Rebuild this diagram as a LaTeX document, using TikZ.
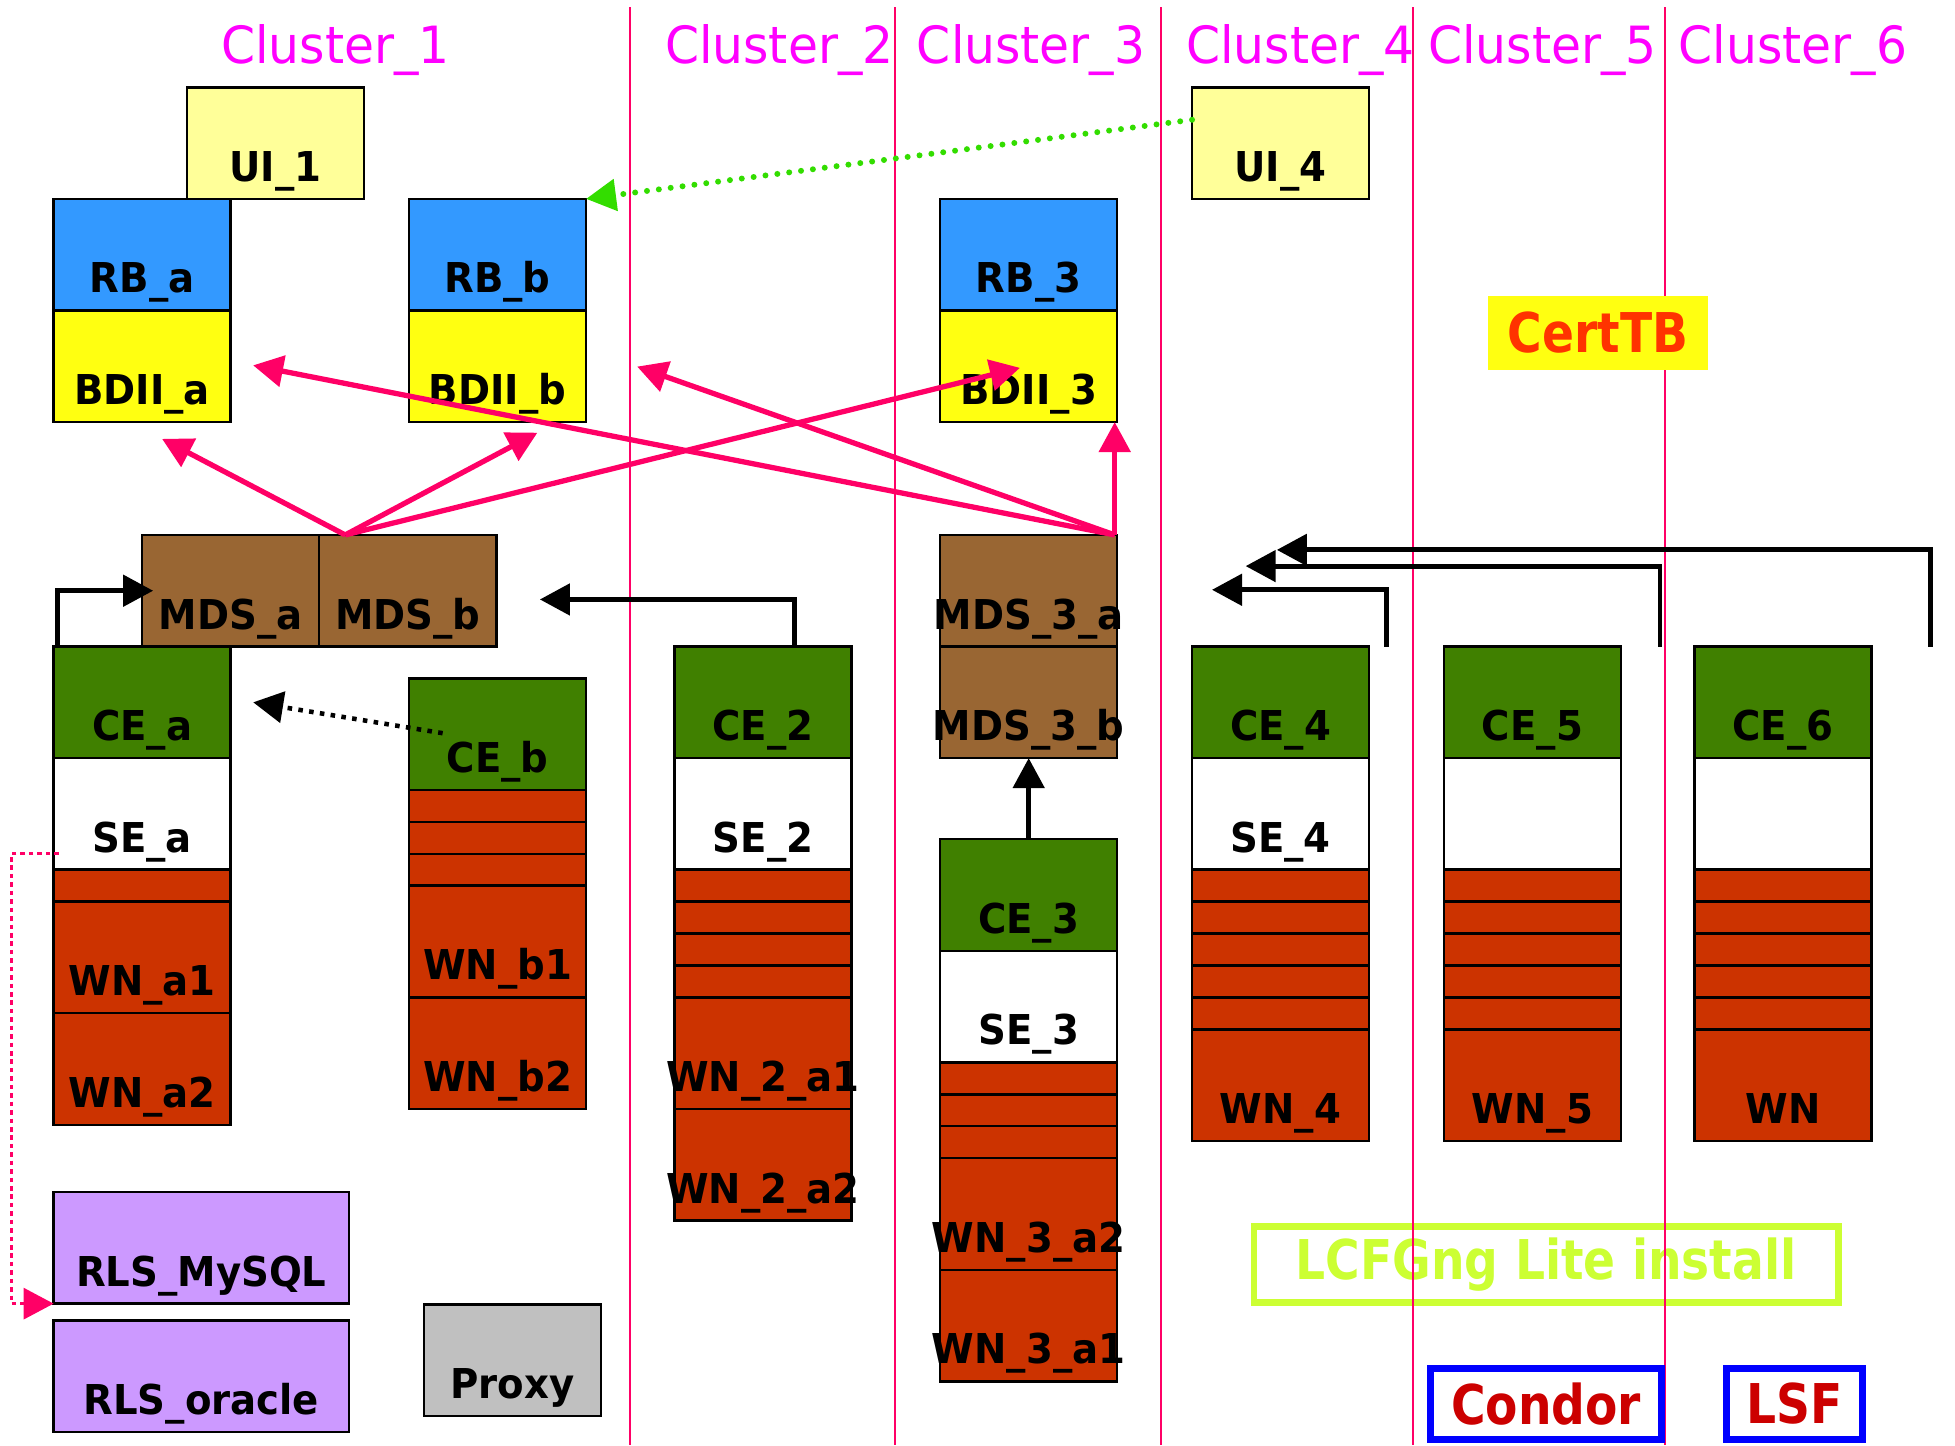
\documentclass[tikz,border=0pt]{standalone}
\usepackage{fontspec}
\setmainfont{DejaVu Sans}
\newfontfamily\lblfont[FakeStretch=0.94]{DejaVu Sans}
\newfontfamily\clfont[FakeStretch=0.95]{DejaVu Sans}
\newfontfamily\bigfont[FakeStretch=0.86]{DejaVu Sans}
\usetikzlibrary{arrows.meta,calc}
\definecolor{pinkl}{HTML}{FF0066}
\definecolor{clmag}{HTML}{FF00FF}
\definecolor{uiy}{HTML}{FFFF99}
\definecolor{rbb}{HTML}{3399FF}
\definecolor{bdy}{HTML}{FFFF11}
\definecolor{mdsb}{HTML}{996633}
\definecolor{ceg}{HTML}{408000}
\definecolor{wnr}{HTML}{CC3300}
\definecolor{rlsp}{HTML}{CC99FF}
\definecolor{proxg}{HTML}{C0C0C0}
\definecolor{certr}{HTML}{FF3300}
\definecolor{limeg}{HTML}{CCFF33}
\definecolor{condr}{HTML}{CC0000}
\definecolor{bluel}{HTML}{0000FF}
\definecolor{grn}{HTML}{33DD00}
\def\U{0.12469mm}
\newcommand\cellw[7]{\node[cell,fill=#6,minimum width=#4*\U,minimum height=#5*\U] (#1) at (#2,#3) {};
  \node[lbl] (#1t) at ([yshift=1.75mm]#1.south) {#7};}
\newcommand\cell[6]{\cellw{#1}{#2}{#3}{142}{#4}{#5}{#6}}
\newcommand\blank[5]{\node[cell,fill=#5,minimum width=142*\U,minimum height=#4*\U] (#1) at (#2,#3) {};}
\begin{document}
\begin{tikzpicture}[x=0.12469mm,y=-0.12469mm,
  cell/.style={draw=black,line width=0.7pt,anchor=north west,inner sep=0pt,outer sep=0pt},
  lbl/.style={anchor=base,inner sep=0pt,font=\lblfont\bfseries\fontsize{11.7}{14}\selectfont},
  clus/.style={anchor=base,inner sep=0pt,text=clmag,font=\clfont\fontsize{14.6}{17}\selectfont},
  big/.style={inner sep=0pt,font=\bigfont\bfseries\fontsize{15.6}{18}\selectfont},
  vline/.style={draw=pinkl,line width=0.5pt},
  blk/.style={draw=black,line width=1.4pt,-{Triangle[length=3mm,width=3.1mm]}},
  pk/.style={draw=pinkl,line width=1.5pt,-{Triangle[length=3mm,width=3.1mm]}},
  gdot/.style={draw=grn,line width=1.7pt,line cap=round,dash pattern=on 0pt off 3.4pt,-{Triangle[length=3mm,width=3.1mm,fill=grn]}},
  bdot/.style={draw=black,line width=1.3pt,dash pattern=on 1.3pt off 1.8pt,-{Triangle[length=3mm,width=3.1mm]}},
  pdot/.style={draw=pinkl,line width=0.9pt,dash pattern=on 1.3pt off 1.1pt,-{Triangle[length=3mm,width=3.1mm,fill=pinkl]}}]
\useasboundingbox (0,0) rectangle (1567.9,1158.9);
\fill[white] (0,0) rectangle (1567.9,1158.9);

% LCFGng box (behind the separators)
\node[big,draw=limeg,line width=1.8pt,minimum width=469*\U,minimum height=61*\U,text=limeg] (lcfg) at (1240,1014) {LCFGng Lite install};

% cluster separators
\foreach \xx in {505,718,931,1133,1335} \draw[vline] (\xx,6) -- (\xx,1158.9);

% cluster titles
\node[clus] (c1) at (269,51) {Cluster\_1};
\node[clus] (c2) at (625,51) {Cluster\_2};
\node[clus] (c3) at (827,51) {Cluster\_3};
\node[clus] (c4) at (1043,51) {Cluster\_4};
\node[clus] (c5) at (1237,51) {Cluster\_5};
\node[clus] (c6) at (1438,51) {Cluster\_6};

% top boxes
\cell{UIa}{150}{70}{89.5}{uiy}{UI\_1}
\cell{RBa}{43}{159.5}{89.5}{rbb}{RB\_a}
\cell{BDIIa}{43}{249}{89.5}{bdy}{BDII\_a}
\cell{RBb}{328}{159.5}{89.5}{rbb}{RB\_b}
\cell{BDIIb}{328}{249}{89.5}{bdy}{BDII\_b}
\cell{RBc}{754}{159.5}{89.5}{rbb}{RB\_3}
\cell{BDIIc}{754}{249}{89.5}{bdy}{BDII\_3}
\cell{UId}{956}{70}{89.5}{uiy}{UI\_4}

% MDS
\cell{MDSa}{114}{429}{89.5}{mdsb}{MDS\_a}
\cell{MDSb}{256}{429}{89.5}{mdsb}{MDS\_b}
\cell{MDScA}{754}{429}{89.5}{mdsb}{MDS\_3\_a}
\cell{MDScB}{754}{518.5}{89.5}{mdsb}{MDS\_3\_b}

% column a
\cell{CEa}{43}{518.5}{89.5}{ceg}{CE\_a}
\cell{SEa}{43}{608}{89.5}{white}{SE\_a}
\blank{WNaz}{43}{697.5}{25.6}{wnr}
\cell{WNa1}{43}{723.1}{89.5}{wnr}{WN\_a1}
\cell{WNa2}{43}{812.6}{89.5}{wnr}{WN\_a2}

% column b
\cell{CEb}{328}{544}{89.5}{ceg}{CE\_b}
\foreach \i/\yy in {1/633.5,2/659.1,3/684.7} {\blank{WNbz\i}{328}{\yy}{25.6}{wnr}}
\cell{WNb1}{328}{710.3}{89.5}{wnr}{WN\_b1}
\cell{WNb2}{328}{799.8}{89.5}{wnr}{WN\_b2}

% column 2
\cell{CEbb}{541}{518.5}{89.5}{ceg}{CE\_2}
\cell{SEbb}{541}{608}{89.5}{white}{SE\_2}
\foreach \i/\yy in {1/697.5,2/723.1,3/748.7,4/774.3} {\blank{WNbbz\i}{541}{\yy}{25.6}{wnr}}
\cell{WNbba}{541}{799.9}{89.5}{wnr}{WN\_2\_a1}
\cell{WNbbb}{541}{889.4}{89.5}{wnr}{WN\_2\_a2}

% column 3
\cell{CEc}{754}{673}{89.5}{ceg}{CE\_3}
\cell{SEc}{754}{762.5}{89.5}{white}{SE\_3}
\foreach \i/\yy in {1/852,2/877.6,3/903.2} {\blank{WNcz\i}{754}{\yy}{25.6}{wnr}}
\cell{WNcb}{754}{928.8}{89.5}{wnr}{WN\_3\_a2}
\cell{WNca}{754}{1018.3}{89.5}{wnr}{WN\_3\_a1}

% column 4
\cell{CEd}{956}{518.5}{89.5}{ceg}{CE\_4}
\cell{SEd}{956}{608}{89.5}{white}{SE\_4}
\foreach \i/\yy in {1/697.5,2/723.1,3/748.7,4/774.3,5/799.9} {\blank{WNdz\i}{956}{\yy}{25.6}{wnr}}
\cell{WNd}{956}{825.5}{89.5}{wnr}{WN\_4}

% column 5
\cell{CEe}{1158}{518.5}{89.5}{ceg}{CE\_5}
\blank{SEe}{1158}{608}{89.5}{white}
\foreach \i/\yy in {1/697.5,2/723.1,3/748.7,4/774.3,5/799.9} {\blank{WNez\i}{1158}{\yy}{25.6}{wnr}}
\cell{WNe}{1158}{825.5}{89.5}{wnr}{WN\_5}

% column 6
\cell{CEf}{1359}{518.5}{89.5}{ceg}{CE\_6}
\blank{SEf}{1359}{608}{89.5}{white}
\foreach \i/\yy in {1/697.5,2/723.1,3/748.7,4/774.3,5/799.9} {\blank{WNfz\i}{1359}{\yy}{25.6}{wnr}}
\cell{WNf}{1359}{825.5}{89.5}{wnr}{WN}

% bottom left boxes
\cellw{RLSm}{43}{956}{237}{89.5}{rlsp}{RLS\_MySQL}
\cellw{RLSo}{43}{1059}{237}{89.5}{rlsp}{RLS\_oracle}
\cell{Proxy}{340}{1046}{89.5}{proxg}{Proxy}

% labels right
\node[big,fill=bdy,minimum width=177*\U,minimum height=60*\U,text=certr] (cert) at (1281.5,267) {CertTB};
\node[big,draw=bluel,line width=1.9pt,minimum width=185*\U,minimum height=57*\U,text=condr] (condor) at (1240,1126) {Condor};
\node[big,draw=bluel,line width=1.9pt,minimum width=109*\U,minimum height=57*\U,text=condr] (lsf) at (1439,1126) {LSF};

% pink arrows MDS -> BDII
\coordinate (mj) at ([xshift=2.6mm]MDSb.north west);
\coordinate (mjc) at ([xshift=-0.25mm]MDScA.north east);
\coordinate (tA1) at (130,352);
\coordinate (tB1) at (431,347);
\coordinate (tC1) at (818,295);
\coordinate (tA3) at (203,293);
\coordinate (tB3) at (511,294);
\draw[pk] (mj) -- (tA1);
\draw[pk] (mj) -- (tB1);
\draw[pk] (mj) -- (tC1);
\draw[pk] (mjc) -- (tA3);
\draw[pk] (mjc) -- (tB3);
\draw[pk] (mjc) -- (mjc |- BDIIc.south);

% green dotted UI_4 -> RB_b
\draw[gdot] ([yshift=-3.25mm]UId.north west) -- (RBb.north east);

% black connectors
\draw[blk] ([xshift=0.4mm]CEa.north west) |- ([xshift=1.1mm]MDSa.west);
\draw[blk] ([xshift=3.1mm]CEbb.north) |- ([shift={(35,7)}]MDSb.east);
\draw[blk] (CEc.north) -- (MDScB.south);
\draw[bdot] ([shift={(27,44)}]CEb.north west) -- ([xshift=2.25mm]CEa.east);
\coordinate (t4) at (972,473);
\coordinate (t5) at (999,454);
\coordinate (t6) at (1024,441);
\draw[blk] ([xshift=1.75mm]CEd.north east) |- (t4);
\draw[blk] ([xshift=3.9mm]CEe.north east) |- (t5);
\draw[blk] ([xshift=5.9mm]CEf.north east) |- (t6);

% pink dotted SE_a -> RLS_MySQL
\draw[pdot] ([shift={(4,32)}]SEa.west) -- ++(-38,0) |- (RLSm.south west);
\end{tikzpicture}
\end{document}
